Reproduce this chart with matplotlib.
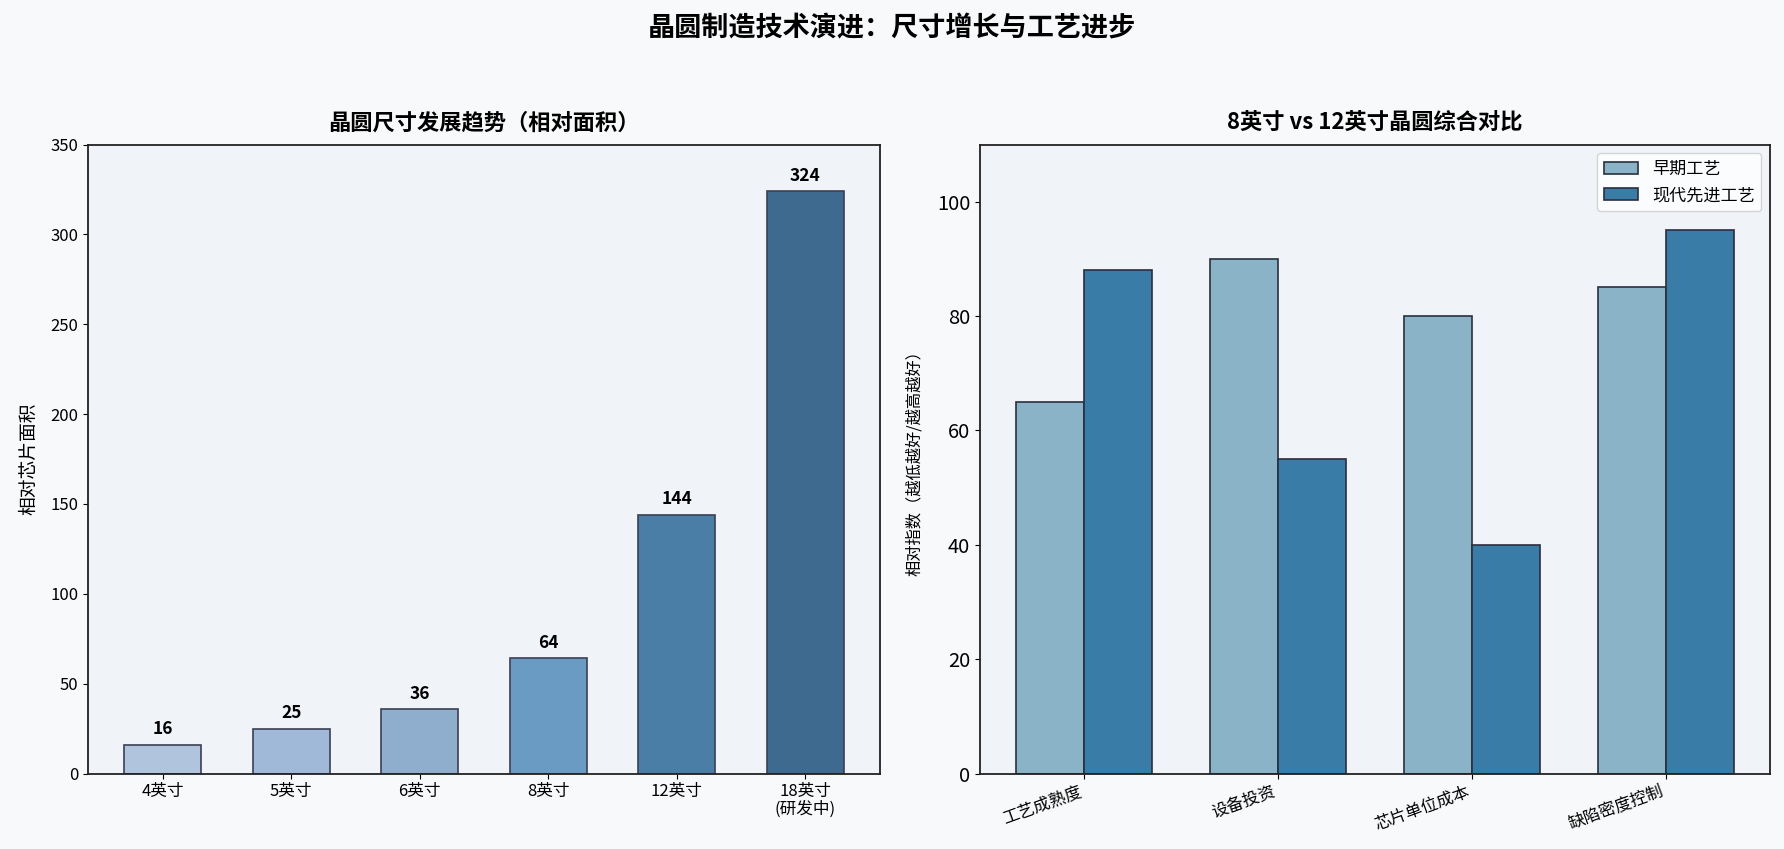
import numpy as np
import matplotlib.pyplot as plt

plt.rcParams["font.family"] = ["Noto Sans CJK SC", "DejaVu Sans"]
plt.rcParams["axes.unicode_minus"] = False

# 左图数据：晶圆尺寸与相对面积
sizes = ["4英寸", "5英寸", "6英寸", "8英寸", "12英寸", "18英寸\n(研发中)"]
areas = [16, 25, 36, 64, 144, 324]
size_colors = ["#b0c4de", "#a0b9d8", "#8fadcc", "#6a9bc3", "#4a7ea6", "#3d6a8e"]

# 右图数据：综合对比
metrics = ["工艺成熟度", "设备投资", "芯片单位成本", "缺陷密度控制"]
early = [65, 90, 80, 85]
modern = [88, 55, 40, 95]

W, H = 1784, 849
fig = plt.figure(figsize=(W / 100, H / 100), dpi=100, facecolor="#f8f9fa")
ax1 = fig.add_axes([88 / W, 1 - 773.5 / H, 792 / W, 629 / H])
ax2 = fig.add_axes([980 / W, 1 - 773.5 / H, 790 / W, 629 / H])

for ax in (ax1, ax2):
    ax.set_facecolor("#f0f3f8")
    for s in ax.spines.values():
        s.set_color("#222222")
        s.set_linewidth(1.3)

# 左图
x = np.arange(len(sizes))
bars = ax1.bar(x, areas, width=0.6, color=size_colors, edgecolor="#3a3f55", linewidth=1.2)
for b, v in zip(bars, areas):
    ax1.text(b.get_x() + b.get_width() / 2, v + 3.5, str(v), ha="center", va="bottom",
             fontsize=12.5, fontweight="bold")
ax1.set_xticks(x)
ax1.set_xticklabels(sizes, fontsize=12, linespacing=1.0)
ax1.set_ylim(0, 350)
ax1.tick_params(axis="y", labelsize=12)
ax1.set_ylabel("相对芯片面积", fontsize=13.5, labelpad=8)
ax1.set_title("晶圆尺寸发展趋势（相对面积）", fontsize=16, fontweight="bold", pad=11)

# 右图
x2 = np.arange(len(metrics))
w = 0.35
ax2.bar(x2 - w / 2, early, width=w, color="#8ab3c8", edgecolor="#2b2f3e", linewidth=1.2, label="早期工艺")
ax2.bar(x2 + w / 2, modern, width=w, color="#3a7ca8", edgecolor="#2b2f3e", linewidth=1.2, label="现代先进工艺")
ax2.set_xticks(x2)
ax2.set_xticklabels(metrics, rotation=20, ha="right", fontsize=12)
ax2.set_ylim(0, 110)
ax2.tick_params(axis="y", labelsize=14.5)
ax2.set_ylabel("相对指数（越低越好/越高越好）", fontsize=11.7, labelpad=10)
ax2.set_title("8英寸 vs 12英寸晶圆综合对比", fontsize=16, fontweight="bold", pad=11)
ax2.legend(loc="upper right", fontsize=12.3, edgecolor="#cccccc")

fig.suptitle("晶圆制造技术演进：尺寸增长与工艺进步", fontsize=19.5, fontweight="bold", y=0.966, va="center")

fig.savefig("out.png", dpi=100, facecolor=fig.get_facecolor())
